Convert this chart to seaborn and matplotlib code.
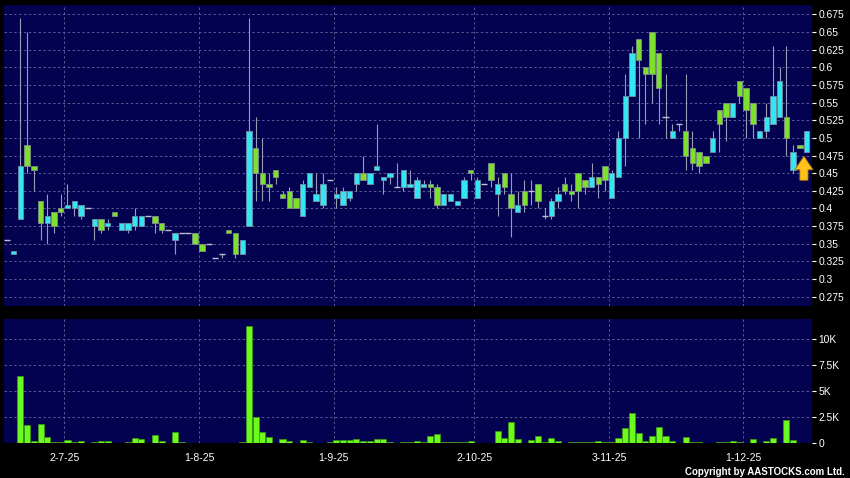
import numpy as np
import pandas as pd
import seaborn as sns
import matplotlib.pyplot as plt

# daily candles, oldest first
opens = [0.355, 0.335, 0.385, 0.49, 0.46, 0.41, 0.38, 0.395, 0.40, 0.40,
         0.40, 0.39, 0.40, 0.375, 0.385, 0.375, 0.395, 0.37, 0.37, 0.375,
         0.375, 0.39, 0.39, 0.38, 0.37, 0.355, 0.365, 0.365, 0.365, 0.35,
         0.35, 0.33, 0.335, 0.37, 0.365, 0.335, 0.375, 0.485, 0.45, 0.435,
         0.455, 0.42, 0.425, 0.415, 0.39, 0.43, 0.41, 0.405, 0.44, 0.415,
         0.405, 0.415, 0.435, 0.45, 0.435, 0.455, 0.44, 0.445, 0.43, 0.43,
         0.43, 0.415, 0.43, 0.435, 0.43, 0.405, 0.41, 0.405, 0.415, 0.455,
         0.415, 0.435, 0.465, 0.42, 0.45, 0.42, 0.395, 0.425, 0.425, 0.435,
         0.39, 0.39, 0.41, 0.435, 0.425, 0.45, 0.44, 0.43, 0.445, 0.46,
         0.415, 0.445, 0.50, 0.56, 0.64, 0.60, 0.65, 0.62, 0.53, 0.50,
         0.52, 0.51, 0.485, 0.48, 0.475, 0.48, 0.54, 0.55, 0.53, 0.58,
         0.57, 0.55, 0.50, 0.51, 0.52, 0.53, 0.53, 0.455, 0.49, 0.48]
closes = [0.355, 0.34, 0.46, 0.46, 0.455, 0.38, 0.39, 0.375, 0.395, 0.405,
          0.41, 0.405, 0.40, 0.385, 0.37, 0.38, 0.39, 0.38, 0.38, 0.39,
          0.39, 0.39, 0.38, 0.37, 0.37, 0.365, 0.365, 0.365, 0.35, 0.34,
          0.35, 0.33, 0.335, 0.365, 0.335, 0.355, 0.51, 0.45, 0.435, 0.43,
          0.445, 0.415, 0.40, 0.40, 0.435, 0.45, 0.42, 0.435, 0.44, 0.42,
          0.425, 0.425, 0.45, 0.44, 0.45, 0.46, 0.445, 0.45, 0.43, 0.455,
          0.435, 0.44, 0.435, 0.43, 0.405, 0.42, 0.42, 0.41, 0.44, 0.45,
          0.44, 0.435, 0.44, 0.435, 0.43, 0.40, 0.405, 0.405, 0.425, 0.41,
          0.39, 0.41, 0.42, 0.425, 0.42, 0.425, 0.43, 0.445, 0.435, 0.44,
          0.45, 0.50, 0.56, 0.62, 0.61, 0.59, 0.59, 0.57, 0.53, 0.51,
          0.52, 0.475, 0.465, 0.46, 0.465, 0.50, 0.52, 0.53, 0.55, 0.56,
          0.54, 0.52, 0.51, 0.53, 0.56, 0.58, 0.50, 0.48, 0.485, 0.51]
highs = [0.355, 0.34, 0.67, 0.65, 0.46, 0.41, 0.42, 0.395, 0.42, 0.435,
         0.41, 0.405, 0.40, 0.385, 0.385, 0.385, 0.395, 0.38, 0.38, 0.40,
         0.39, 0.39, 0.39, 0.38, 0.37, 0.365, 0.365, 0.365, 0.365, 0.35,
         0.35, 0.33, 0.335, 0.37, 0.365, 0.355, 0.67, 0.53, 0.50, 0.45,
         0.455, 0.425, 0.43, 0.415, 0.44, 0.45, 0.45, 0.45, 0.44, 0.43,
         0.43, 0.425, 0.45, 0.475, 0.45, 0.52, 0.445, 0.45, 0.465, 0.455,
         0.455, 0.445, 0.44, 0.44, 0.435, 0.42, 0.42, 0.41, 0.445, 0.455,
         0.445, 0.435, 0.465, 0.445, 0.45, 0.45, 0.425, 0.44, 0.44, 0.435,
         0.40, 0.415, 0.43, 0.445, 0.435, 0.45, 0.44, 0.465, 0.445, 0.46,
         0.455, 0.51, 0.59, 0.63, 0.64, 0.60, 0.65, 0.62, 0.59, 0.52,
         0.52, 0.59, 0.51, 0.48, 0.475, 0.51, 0.54, 0.55, 0.55, 0.58,
         0.57, 0.55, 0.51, 0.55, 0.63, 0.60, 0.63, 0.49, 0.49, 0.51]
lows = [0.355, 0.335, 0.385, 0.45, 0.425, 0.355, 0.35, 0.365, 0.39, 0.40,
        0.39, 0.385, 0.40, 0.355, 0.365, 0.37, 0.39, 0.37, 0.365, 0.37,
        0.375, 0.39, 0.365, 0.365, 0.37, 0.335, 0.365, 0.365, 0.35, 0.34,
        0.35, 0.33, 0.33, 0.365, 0.33, 0.335, 0.375, 0.41, 0.41, 0.41,
        0.435, 0.415, 0.40, 0.40, 0.39, 0.43, 0.41, 0.40, 0.44, 0.40,
        0.405, 0.41, 0.425, 0.44, 0.435, 0.455, 0.42, 0.435, 0.43, 0.425,
        0.43, 0.415, 0.43, 0.415, 0.40, 0.405, 0.41, 0.405, 0.415, 0.44,
        0.415, 0.435, 0.43, 0.39, 0.42, 0.36, 0.395, 0.395, 0.405, 0.40,
        0.385, 0.385, 0.40, 0.42, 0.41, 0.40, 0.42, 0.43, 0.415, 0.425,
        0.415, 0.445, 0.46, 0.56, 0.50, 0.52, 0.55, 0.52, 0.50, 0.50,
        0.51, 0.455, 0.455, 0.45, 0.465, 0.48, 0.48, 0.495, 0.53, 0.55,
        0.50, 0.50, 0.50, 0.50, 0.52, 0.53, 0.475, 0.45, 0.485, 0.48]
volumes = [0, 20, 6500, 1750, 190, 1900, 640, 130, 130, 290,
           130, 220, 20, 160, 220, 220, 60, 20, 160, 510,
           420, 20, 770, 190, 20, 1090, 130, 20, 60, 20,
           30, 20, 20, 30, 60, 100, 11300, 2560, 1120, 640,
           30, 420, 190, 30, 320, 100, 40, 40, 80, 320,
           320, 320, 450, 220, 220, 450, 380, 130, 60, 130,
           130, 220, 100, 700, 900, 130, 130, 130, 100, 220,
           30, 30, 20, 1220, 480, 2050, 380, 20, 320, 700,
           130, 480, 220, 20, 100, 130, 130, 130, 220, 130,
           160, 510, 1470, 2920, 960, 220, 700, 1540, 700, 220,
           20, 610, 100, 100, 20, 20, 100, 160, 190, 100,
           20, 420, 20, 220, 480, 60, 2210, 320, 20, 20]

date_labels = ['2-7-25', '1-8-25', '1-9-25', '2-10-25', '3-11-25', '1-12-25']
date_pos = [8.5, 28.6, 48.6, 69.5, 89.6, 109.6]
price_ticks = [0.275, 0.3, 0.325, 0.35, 0.375, 0.4, 0.425, 0.45, 0.475,
               0.5, 0.525, 0.55, 0.575, 0.6, 0.625, 0.65, 0.675]
vol_ticks = [0, 2500, 5000, 7500, 10000]
vol_labels = ['0', '2.5K', '5K', '7.5K', '10K']

BG = '#020250'
UP = '#33E6F2'
DOWN = '#7DE02C'
WICK = '#9A9AB4'
GRID = '#5A5A92'
VOLC = '#6CFA1C'

sns.set_style('dark', {'axes.facecolor': BG, 'figure.facecolor': 'black'})
plt.rcParams['font.family'] = ['Liberation Sans', 'DejaVu Sans']

df = pd.DataFrame({'idx': np.arange(len(opens)), 'open': opens, 'close': closes,
                   'high': highs, 'low': lows, 'volume': volumes})

fig = plt.figure(figsize=(8.5, 4.78), dpi=100, facecolor='black')
ax = fig.add_axes([0.0047, 0.3598, 0.9502, 0.6297])
axv = fig.add_axes([0.0047, 0.0726, 0.9502, 0.26])

# wicks
ax.vlines(df['idx'], df['low'], df['high'], color=WICK, lw=0.8, zorder=2)

# bodies
up = df[df['close'] > df['open']]
dn = df[df['close'] < df['open']]
flat = df[df['close'] == df['open']]
ax.bar(up['idx'], up['close'] - up['open'], bottom=up['open'], width=0.8,
       color=UP, edgecolor='#6F8FA6', lw=0.6, zorder=3)
ax.bar(dn['idx'], dn['open'] - dn['close'], bottom=dn['close'], width=0.8,
       color=DOWN, edgecolor='#7F8F8A', lw=0.6, zorder=3)
ax.hlines(flat['close'], flat['idx'] - 0.45, flat['idx'] + 0.45,
          color='#C0C0D0', lw=1.0, zorder=3)

# latest-price arrow
ax.annotate('', xy=(118.6, 0.474), xytext=(118.6, 0.440),
            arrowprops=dict(arrowstyle='simple,head_width=1.0,head_length=0.75,tail_width=0.45',
                            fc='#FFC21A', ec='#B07A00', lw=0.6, mutation_scale=13,
                            shrinkA=0, shrinkB=0),
            zorder=5)

# volume
sns.barplot(data=df, x='idx', y='volume', native_scale=True, color=VOLC,
            saturation=1, width=0.9, edgecolor='#3C9A10', linewidth=0.5,
            ax=axv, zorder=3)

for a in (ax, axv):
    a.set_facecolor(BG)
    a.set_xlim(-0.45, 119.75)
    a.set_xticks(date_pos)
    a.grid(True, color=GRID, ls=(0, (2.5, 2.5)), lw=0.7)
    a.set_axisbelow(True)
    for s in a.spines.values():
        s.set_visible(False)
    a.yaxis.tick_right()
    a.tick_params(axis='y', colors='white', length=3, width=0.8, pad=2,
                  labelsize=7.4, labelcolor='white')
    a.set_xlabel('')
    a.set_ylabel('')

ax.set_ylim(0.2618, 0.6882)
ax.set_yticks(price_ticks)
ax.set_yticklabels([f'{v:g}' for v in price_ticks])
ax.tick_params(axis='x', length=0, labelbottom=False)

axv.set_ylim(0, 11950)
axv.set_yticks(vol_ticks)
axv.set_yticklabels(vol_labels)
axv.set_xticklabels(date_labels)
axv.tick_params(axis='x', colors='#C8C8C8', length=4, width=0.8, pad=3,
                labelsize=7.5, labelcolor='white')

fig.text(0.9933, 0.012, 'Copyright by AASTOCKS.com Ltd.', ha='right', va='center',
         color='white', fontsize=7, fontweight='bold')

fig.savefig('out.png', dpi=100, facecolor='black')
